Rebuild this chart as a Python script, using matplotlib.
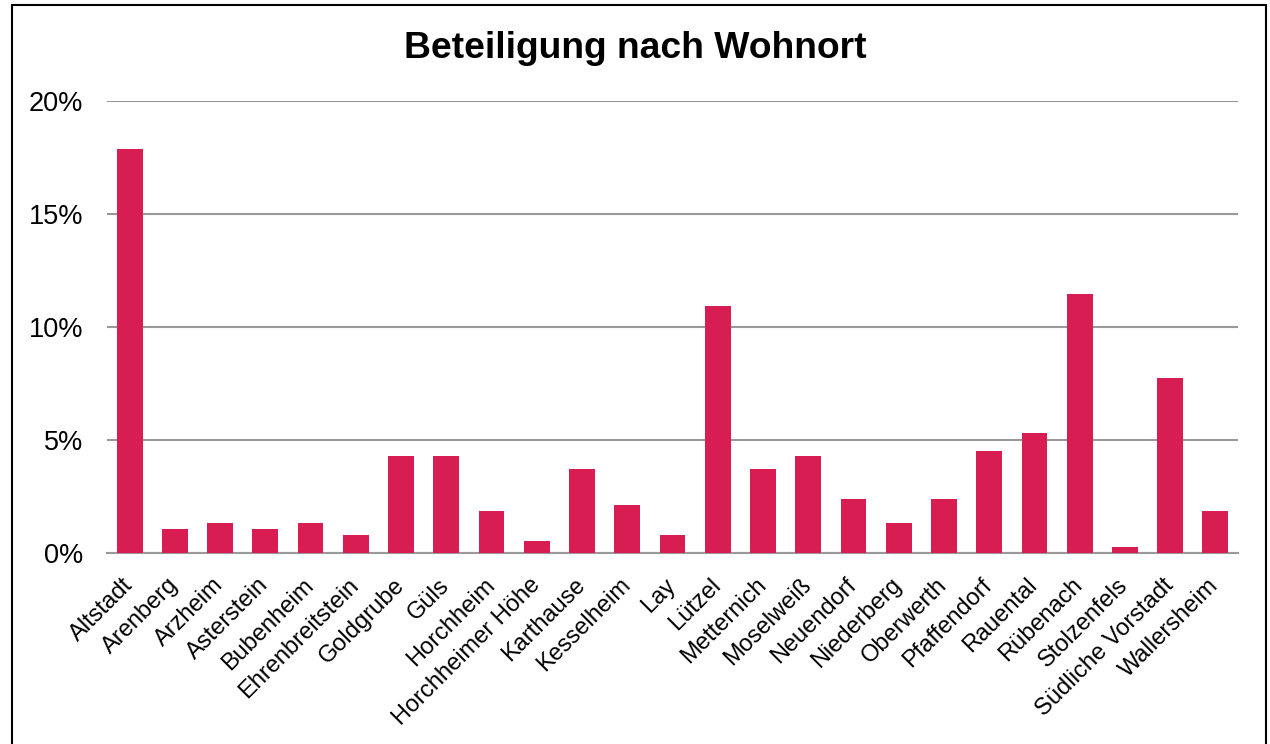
import matplotlib.pyplot as plt
from matplotlib.patches import Rectangle
from matplotlib.ticker import FuncFormatter
from matplotlib.transforms import ScaledTranslation

plt.rcParams['font.family'] = ['Liberation Sans', 'DejaVu Sans']

orte = ['Altstadt', 'Arenberg', 'Arzheim', 'Asterstein', 'Bubenheim',
        'Ehrenbreitstein', 'Goldgrube', 'Güls', 'Horchheim', 'Horchheimer Höhe',
        'Karthause', 'Kesselheim', 'Lay', 'Lützel', 'Metternich', 'Moselweiß',
        'Neuendorf', 'Niederberg', 'Oberwerth', 'Pfaffendorf', 'Rauental',
        'Rübenach', 'Stolzenfels', 'Südliche Vorstadt', 'Wallersheim']
anteil = [17.86, 1.07, 1.33, 1.07, 1.33, 0.80, 4.27, 4.27, 1.87, 0.53,
          3.73, 2.13, 0.80, 10.93, 3.73, 4.27, 2.40, 1.33, 2.40, 4.53,
          5.33, 11.47, 0.27, 7.73, 1.87]

fig = plt.figure(figsize=(12.7, 7.44), dpi=100)
ax = fig.add_axes([107 / 1270, 1 - 553 / 744, 1131 / 1270, 452 / 744])

x = range(len(orte))
ax.bar(x, anteil, width=0.57, color='#D71D52', zorder=3)
ax.set_xlim(-0.5, len(orte) - 0.5)
ax.set_ylim(0, 20)
ax.set_yticks([0, 5, 10, 15, 20])
ax.yaxis.set_major_formatter(FuncFormatter(lambda v, p: f'{v:.0f}%'))
ax.grid(axis='y', color='#999999', linewidth=1.5, zorder=0)
ax.set_xticks(list(x))
ax.set_xticklabels(orte, rotation=45, ha='right', rotation_mode='anchor')
ax.tick_params(axis='both', length=0)
ax.tick_params(axis='y', pad=17, labelsize=19.5)
ax.tick_params(axis='x', pad=8, labelsize=17)
shift = ScaledTranslation(-0.08, -0.10, fig.dpi_scale_trans)
for lbl in ax.get_xticklabels():
    lbl.set_transform(lbl.get_transform() + shift)
for s in ['left', 'right', 'top']:
    ax.spines[s].set_visible(False)
ax.spines['bottom'].set_color('#999999')
ax.spines['bottom'].set_linewidth(1.5)

fig.text(0.5, 1 - 49 / 744, 'Beteiligung nach Wohnort', ha='center', va='center',
         fontsize=26.8, fontweight='bold')

fig.patches.append(Rectangle((12 / 1270, -0.05), 1254 / 1270, 1.05 - 5 / 744,
                             transform=fig.transFigure, fill=False,
                             edgecolor='black', linewidth=1.5))

fig.savefig('out.png', dpi=100)
